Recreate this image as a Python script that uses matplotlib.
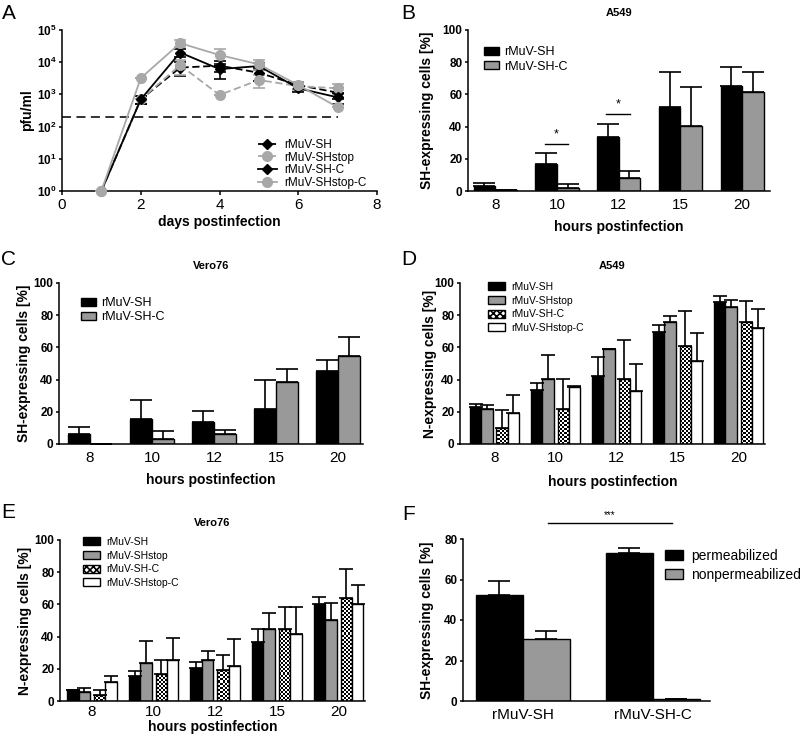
import numpy as np
import matplotlib
matplotlib.use("Agg")
import matplotlib.pyplot as plt
from matplotlib.patches import Patch
from matplotlib.lines import Line2D
from matplotlib.ticker import NullLocator

plt.rcParams['font.family'] = ['Liberation Sans', 'DejaVu Sans']
plt.rcParams['mathtext.fontset'] = 'custom'
plt.rcParams['mathtext.rm'] = 'Liberation Sans'
plt.rcParams['mathtext.bf'] = 'Liberation Sans:bold'
plt.rcParams['hatch.linewidth'] = 1.2

# ---- panel A: growth kinetics ----
days = [1, 2, 3, 4, 5, 6, 7]
titer_sh = [1, 700, 6800, 7800, 4700, 1950, 1130]
titer_sh_err = [0, 200, 3000, 3000, 2000, 500, 400]
titer_shstop = [1, 700, 8100, 960, 2800, 1800, 1550]
titer_shstop_err = [0, 0, 4000, 0, 1200, 500, 500]
titer_shc = [1, 700, 20000, 6100, 7600, 1550, 810]
titer_shc_err = [0, 200, 6000, 3000, 2000, 400, 300]
titer_shstopc = [1, 3200, 39000, 16700, 8600, 1950, 400]
titer_shstopc_err = [0, 0, 10000, 9000, 3000, 500, 0]
detection_limit = 200

hours = ['8', '10', '12', '15', '20']

# ---- panel B: SH expression, A549 ----
b_sh = [3.1, 16.8, 33.3, 52.0, 65.2]
b_sh_err = [2.1, 7.0, 8.5, 22.0, 11.6]
b_shc = [0.5, 2.1, 8.1, 40.6, 61.7]
b_shc_err = [0.3, 2.4, 4.5, 23.8, 12.4]

# ---- panel C: SH expression, Vero76 ----
c_sh = [6.4, 15.7, 13.7, 21.7, 45.5]
c_sh_err = [4.4, 11.4, 6.6, 17.8, 6.5]
c_shc = [0.0, 3.3, 6.4, 38.7, 54.9]
c_shc_err = [0.0, 4.6, 2.1, 7.9, 11.6]

# ---- panel D: N expression, A549 ----
d_sh = [23.0, 33.5, 42.0, 69.6, 88.4]
d_sh_err = [1.6, 4.6, 11.8, 4.3, 3.7]
d_shstop = [21.7, 40.4, 58.8, 76.0, 85.1]
d_shstop_err = [2.3, 14.9, 0.3, 3.7, 4.5]
d_shc = [9.9, 21.7, 40.6, 60.7, 75.6]
d_shc_err = [11.0, 18.5, 23.8, 22.1, 13.4]
d_shstopc = [19.3, 35.4, 32.7, 51.6, 71.8]
d_shstopc_err = [11.1, 0.5, 16.8, 17.3, 12.1]

# ---- panel E: N expression, Vero76 ----
e_sh = [6.6, 15.8, 20.3, 36.7, 60.2]
e_sh_err = [0.5, 3.1, 3.8, 8.3, 4.5]
e_shstop = [5.8, 23.4, 25.7, 44.8, 50.6]
e_shstop_err = [2.3, 13.7, 5.4, 10.0, 10.4]
e_shc = [3.5, 16.6, 19.5, 44.8, 63.9]
e_shc_err = [3.1, 8.7, 9.3, 13.7, 18.3]
e_shstopc = [11.6, 25.7, 21.8, 41.9, 60.2]
e_shstopc_err = [4.0, 13.3, 17.0, 16.2, 12.0]

# ---- panel F: permeabilized vs nonpermeabilized ----
f_groups = ['rMuV-SH', 'rMuV-SH-C']
f_perm = [52.3, 72.9]
f_perm_err = [7.1, 2.8]
f_nonperm = [30.5, 0.8]
f_nonperm_err = [4.0, 0.0]

BLACK = '#000000'
GRAY = '#999999'
LGRAY = '#a8a8a8'

fig = plt.figure(figsize=(8, 7.42), dpi=100)
W, H = 800.0, 742.0


def add_axes(x0, y0, x1, y1):
    return fig.add_axes([x0 / W, 1 - y1 / H, (x1 - x0) / W, (y1 - y0) / H])


def style(ax):
    for s in ['top', 'right']:
        ax.spines[s].set_visible(False)
    for s in ['left', 'bottom']:
        ax.spines[s].set_linewidth(1.1)
    ax.tick_params(axis='y', direction='out', length=2.5, width=1.1, pad=1.5, labelsize=8.5)
    for lab in ax.get_yticklabels():
        lab.set_fontweight('bold')


def checker_fill(ax, patches, cell=2.0):
    x0, x1 = ax.get_xlim()
    y0, y1 = ax.get_ylim()
    bb = ax.get_window_extent()
    nrow, ncol = int(round(bb.height / cell)), int(round(bb.width / cell))
    board = np.indices((nrow, ncol)).sum(axis=0) % 2
    for p in patches:
        im = ax.imshow(board, cmap='gray_r', extent=(x0, x1, y0, y1), aspect='auto',
                       interpolation='nearest', zorder=1.5)
        im.set_clip_path(p)
    ax.set_xlim(x0, x1)
    ax.set_ylim(y0, y1)


def bar_panel(ax, series, errs, fills, offsets, width, xlim, ylim, ystep, capsize):
    x = np.arange(len(series[0]))
    ax.set_xlim(*xlim)
    ax.set_ylim(*ylim)
    for vals, err, fill, off in zip(series, errs, fills, offsets):
        pos = x + off
        if fill == 'checker':
            bars = ax.bar(pos, vals, width, facecolor='none', edgecolor='black', linewidth=1.0, zorder=2)
            checker_fill(ax, bars.patches)
        else:
            ax.bar(pos, vals, width, facecolor=fill, edgecolor='black', linewidth=1.0, zorder=2)
        ax.errorbar(pos, vals, yerr=[np.zeros(len(vals)), err], fmt='none', ecolor='black',
                    elinewidth=1.2, capsize=capsize, capthick=1.2, zorder=3)
    ax.set_yticks(np.arange(ylim[0], ylim[1] + 0.1, ystep))
    style(ax)
    ax.tick_params(axis='x', length=0, pad=5, labelsize=11)


def title(ax, text):
    ax.annotate(text, xy=(0.5, 1), xycoords='axes fraction', xytext=(0, 12),
                textcoords='offset points', ha='center', va='center', fontsize=8, fontweight='bold')


def letter(x, y, t):
    fig.text(x / W, 1 - y / H, t, fontsize=15, ha='left', va='top')


# ---- A ----
axA = add_axes(62, 30, 377, 191)
axA.set_yscale('log')
axA.set_xlim(0, 8)
axA.set_ylim(1, 1e5)
axA.plot([0, 7], [detection_limit, detection_limit], ls=(0, (5, 3)), color='#222222', lw=1.3, zorder=1)
line_specs = [
    (titer_sh, titer_sh_err, BLACK, (0, (4, 2)), 'D', 5, 'rMuV-SH'),
    (titer_shstop, titer_shstop_err, LGRAY, (0, (4, 2)), 'o', 7, 'rMuV-SHstop'),
    (titer_shc, titer_shc_err, BLACK, '-', 'D', 5, 'rMuV-SH-C'),
    (titer_shstopc, titer_shstopc_err, LGRAY, '-', 'o', 7, 'rMuV-SHstop-C'),
]
handles = []
for vals, err, col, ls, mk, ms, lab in line_specs:
    axA.errorbar(days, vals, yerr=[err, err], color=col, ls=ls, lw=1.3, marker=mk, ms=ms,
                 capsize=4, elinewidth=1.2, capthick=1.2, clip_on=False, zorder=3)
    handles.append(Line2D([], [], color=col, ls=ls, lw=1.3, marker=mk, ms=ms, label=lab))
axA.set_xticks([0, 2, 4, 6, 8])
decades = [0, 1, 2, 3, 4, 5]
axA.set_yticks([10.0 ** d for d in decades])
axA.set_yticklabels([r'$\mathbf{10^{%d}}$' % d for d in decades])
axA.yaxis.set_minor_locator(NullLocator())
style(axA)
axA.tick_params(axis='x', direction='out', length=3, width=1.1, pad=2, labelsize=11)
axA.set_xlabel('days postinfection', fontsize=10, fontweight='bold')
axA.xaxis.set_label_coords(0.5, -0.15)
axA.set_ylabel('pfu/ml', fontsize=10, fontweight='bold')
axA.yaxis.set_label_coords(-0.09, 0.5)
axA.legend(handles=handles, loc='upper left', bbox_to_anchor=(258 / W, 1 - 139 / H),
           bbox_transform=fig.transFigure, frameon=False, fontsize=8.5, handlelength=1.6,
           handletextpad=0.6, labelspacing=0.05, borderpad=0, borderaxespad=0)
letter(2, 4, 'A')

# ---- B ----
pair_w = 0.35
pair_off = [-pair_w / 2, pair_w / 2]
axB = add_axes(468, 30, 770, 191)
bar_panel(axB, [b_sh, b_shc], [b_sh_err, b_shc_err], [BLACK, GRAY], pair_off, pair_w,
          (-0.44, 4.45), (0, 100), 20, 8)
axB.set_xticks(range(len(hours)))
axB.set_xticklabels(hours)
axB.set_xlabel('hours postinfection', fontsize=10, fontweight='bold')
axB.xaxis.set_label_coords(0.5, -0.18)
axB.set_ylabel('SH-expressing cells [%]', fontsize=10, fontweight='bold')
axB.yaxis.set_label_coords(-0.113, 0.5)
title(axB, 'A549')
for xa, xb, yl in [(0.81, 1.18, 29.2), (1.79, 2.18, 47.8)]:
    axB.plot([xa, xb], [yl, yl], color='black', lw=1.0)
    axB.text((xa + xb) / 2, yl + 2.2, '*', ha='center', va='bottom', fontsize=9)
axB.legend(handles=[Patch(facecolor=BLACK, edgecolor='black', label='rMuV-SH'),
                    Patch(facecolor=GRAY, edgecolor='black', label='rMuV-SH-C')],
           loc='upper left', bbox_to_anchor=(484 / W, 1 - 46 / H), bbox_transform=fig.transFigure,
           frameon=False, fontsize=9, handlelength=1.2, handleheight=0.6, handletextpad=0.4,
           labelspacing=0.2, borderpad=0, borderaxespad=0)
letter(401, 4, 'B')

# ---- C ----
axC = add_axes(59, 283, 363, 444)
bar_panel(axC, [c_sh, c_shc], [c_sh_err, c_shc_err], [BLACK, GRAY], pair_off, pair_w,
          (-0.5, 4.4), (0, 100), 20, 8)
axC.set_xticks(range(len(hours)))
axC.set_xticklabels(hours)
axC.set_xlabel('hours postinfection', fontsize=10, fontweight='bold')
axC.xaxis.set_label_coords(0.5, -0.18)
axC.set_ylabel('SH-expressing cells [%]', fontsize=10, fontweight='bold')
axC.yaxis.set_label_coords(-0.092, 0.5)
title(axC, 'Vero76')
axC.legend(handles=[Patch(facecolor=BLACK, edgecolor='black', label='rMuV-SH'),
                    Patch(facecolor=GRAY, edgecolor='black', label='rMuV-SH-C')],
           loc='upper left', bbox_to_anchor=(81 / W, 1 - 297 / H), bbox_transform=fig.transFigure,
           frameon=False, fontsize=9, handlelength=1.2, handleheight=0.6, handletextpad=0.4,
           labelspacing=0.2, borderpad=0, borderaxespad=0)
letter(1, 250, 'C')

# ---- D & E: four series ----
quad_w = 0.185
quad_gap = 0.065
quad_off = [-(quad_gap / 2 + 1.5 * quad_w), -(quad_gap / 2 + 0.5 * quad_w),
            quad_gap / 2 + 0.5 * quad_w, quad_gap / 2 + 1.5 * quad_w]
quad_fills = [BLACK, GRAY, 'checker', 'white']
quad_labels = ['rMuV-SH', 'rMuV-SHstop', 'rMuV-SH-C', 'rMuV-SHstop-C']


def quad_legend(ax, x, y):
    hs = [Patch(facecolor=BLACK, edgecolor='black'),
          Patch(facecolor=GRAY, edgecolor='black'),
          Patch(facecolor='white', edgecolor='black', hatch='xxxxx'),
          Patch(facecolor='white', edgecolor='black')]
    ax.legend(hs, quad_labels, loc='upper left', bbox_to_anchor=(x / W, 1 - y / H),
              bbox_transform=fig.transFigure, frameon=False, fontsize=7.5, handlelength=1.6,
              handleheight=0.8, handletextpad=0.6, labelspacing=0.35, borderpad=0, borderaxespad=0)


axD = add_axes(460, 283, 765, 444)
bar_panel(axD, [d_sh, d_shstop, d_shc, d_shstopc],
          [d_sh_err, d_shstop_err, d_shc_err, d_shstopc_err],
          quad_fills, quad_off, quad_w, (-0.565, 4.43), (0, 100), 20, 5)
axD.set_xticks(range(len(hours)))
axD.set_xticklabels(hours)
axD.set_xlabel('hours postinfection', fontsize=10, fontweight='bold')
axD.xaxis.set_label_coords(0.5, -0.19)
axD.set_ylabel('N-expressing cells [%]', fontsize=10, fontweight='bold')
axD.yaxis.set_label_coords(-0.075, 0.5)
title(axD, 'A549')
quad_legend(axD, 488, 282)
letter(401, 250, 'D')

axE = add_axes(60, 540, 365, 701)
bar_panel(axE, [e_sh, e_shstop, e_shc, e_shstopc],
          [e_sh_err, e_shstop_err, e_shc_err, e_shstopc_err],
          quad_fills, quad_off, quad_w, (-0.52, 4.43), (0, 100), 20, 5)
axE.set_xticks(range(len(hours)))
axE.set_xticklabels(hours)
axE.tick_params(axis='x', pad=3)
axE.set_xlabel('hours postinfection', fontsize=10, fontweight='bold')
axE.xaxis.set_label_coords(0.5, -0.115)
axE.set_ylabel('N-expressing cells [%]', fontsize=10, fontweight='bold')
axE.yaxis.set_label_coords(-0.092, 0.5)
title(axE, 'Vero76')
quad_legend(axE, 83, 537)
letter(1, 503, 'E')

# ---- F ----
f_w = 0.36
axF = add_axes(463, 539, 710, 701)
bar_panel(axF, [f_perm, f_nonperm], [f_perm_err, f_nonperm_err], [BLACK, GRAY],
          [-f_w / 2, f_w / 2], f_w, (-0.46, 1.44), (0, 80), 20, 8)
axF.set_xticks(range(len(f_groups)))
axF.set_xticklabels(f_groups)
axF.set_ylabel('SH-expressing cells [%]', fontsize=10, fontweight='bold')
axF.yaxis.set_label_coords(-0.117, 0.5)
axF.plot([0.19, 1.15], [88, 88], color='black', lw=1.0, clip_on=False)
axF.text(0.67, 89.5, '***', ha='center', va='bottom', fontsize=7)
axF.legend(handles=[Patch(facecolor=BLACK, edgecolor='black', label='permeabilized'),
                    Patch(facecolor=GRAY, edgecolor='black', label='nonpermeabilized')],
           loc='upper left', bbox_to_anchor=(665 / W, 1 - 549 / H), bbox_transform=fig.transFigure,
           frameon=False, fontsize=10, handlelength=1.3, handleheight=0.7, handletextpad=0.6,
           labelspacing=0.33, borderpad=0, borderaxespad=0)
letter(402, 505, 'F')

fig.savefig('out.png', dpi=100)
